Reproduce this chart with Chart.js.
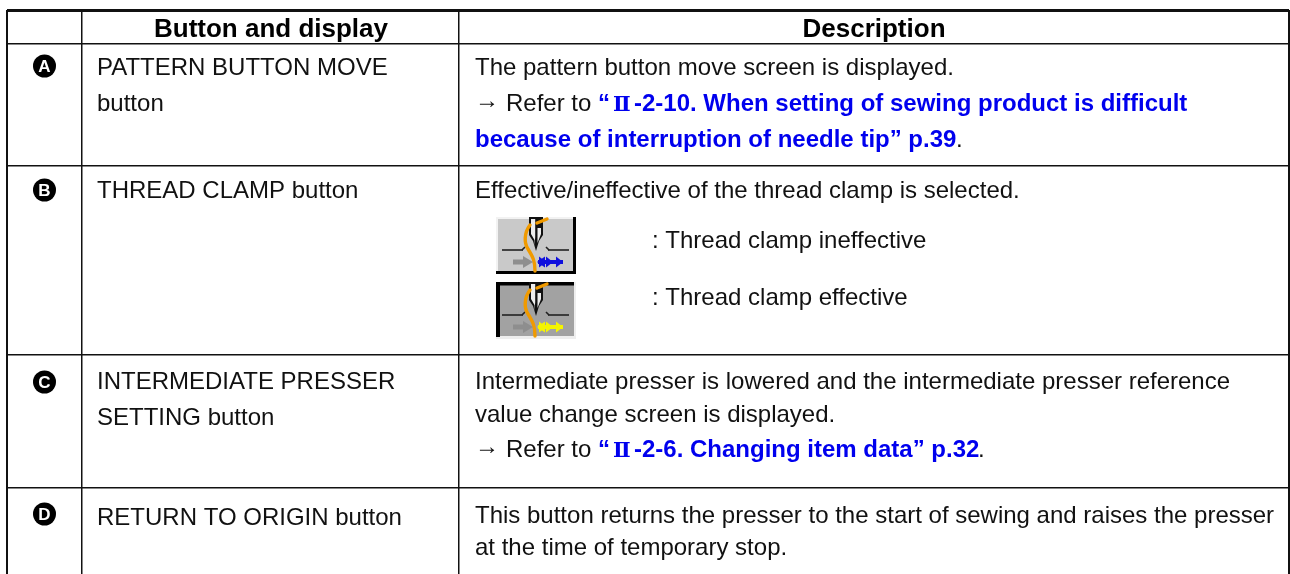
<!DOCTYPE html>
<html><head><meta charset="utf-8">
<style>html,body{margin:0;padding:0;background:#fff}#w{width:1290px;height:574px}</style>
<script src="https://cdn.jsdelivr.net/npm/chart.js@4"></script></head>
<body><div id="w"><canvas id="c" width="1290" height="574"></canvas></div>
<script>
const columnRules=[7,82,459,1289];
const rowRules=[10,44,166,355,488];
const headers=["Button and display","Description"];
const markers=["A","B","C","D"];
const buttonNames=[["PATTERN BUTTON MOVE","button"],["THREAD CLAMP button"],["INTERMEDIATE PRESSER","SETTING button"],["RETURN TO ORIGIN button"]];
const iconCaptions=[": Thread clamp ineffective",": Thread clamp effective"];
const SANS='"Liberation Sans",Arial,sans-serif';
const FS=24;
const BLUE='#0000ee';
// text runs: [text, x, baseline, bold, colour, kind]
const runs=[
 ["The pattern button move screen is displayed.",475,75],
 ["→",475,108],["Refer to ",506,111],
 ["“",598,111,1,BLUE],["Ⅱ",613,111,1,BLUE,"roman"],["-2-10. When setting of sewing product is difficult",634,111,1,BLUE],
 ["because of interruption of needle tip” p.39",475,147,1,BLUE],[".",956,147],
 ["Effective/ineffective of the thread clamp is selected.",475,198],
 ["Intermediate presser is lowered and the intermediate presser reference",475,389],
 ["value change screen is displayed.",475,422],
 ["→",475,454],["Refer to ",506,457],
 ["“",598,457,1,BLUE],["Ⅱ",613,457,1,BLUE,"roman"],["-2-6. Changing item data” p.32",634,457,1,BLUE],[".",978,457],
 ["This button returns the presser to the start of sewing and raises the presser",475,523],
 ["at the time of temporary stop.",475,555]];
const nameBase=[[75,111],[198],[389,425],[525]];
const markerY=[66,190,382,514];
function rect(c,col,x,y,w,h){c.fillStyle=col;c.fillRect(x,y,w,h);}
function drawIcon(c,x,y,active){
 const W=80,H=57;
 c.save();c.translate(x,y);
 if(active){
  rect(c,'#eeeeee',0,0,W,H);rect(c,'#a2a2a2',4,3,W-6,H-6);
  rect(c,'#000',0,0,W-2,3.5);rect(c,'#000',0,0,4,H-2);
 }else{
  rect(c,'#000',0,0,W,H);rect(c,'#f2f2f2',0,0,W-3,H-3);rect(c,'#c9c9c9',2,2,W-5,H-5);
 }
 rect(c,'#222',6,32.2,21,1.6);rect(c,'#222',52,32.2,21,1.6);
 c.strokeStyle='#222';c.lineWidth=1.6;c.beginPath();c.moveTo(26,33);c.lineTo(29,30);c.moveTo(53,33);c.lineTo(50,30);c.stroke();
 c.fillStyle='#111';
 c.beginPath();c.moveTo(33,0);c.lineTo(33,18);c.lineTo(37,24);c.lineTo(40,34);c.lineTo(43,24);c.lineTo(47,18);c.lineTo(47,0);c.closePath();c.fill();
 c.fillStyle='#eee';
 c.beginPath();c.moveTo(35,2);c.lineTo(35,17);c.lineTo(38.5,23);c.lineTo(38.5,29);c.lineTo(39.2,20);c.lineTo(39.2,2);c.closePath();c.fill();
 c.beginPath();c.moveTo(41.5,11);c.lineTo(45,11);c.lineTo(45,17);c.lineTo(41.5,26);c.closePath();c.fill();
 c.strokeStyle='#f09a00';c.lineWidth=3.4;c.lineCap='round';c.beginPath();c.moveTo(51,2);c.lineTo(41,6);
 c.moveTo(34,8);c.bezierCurveTo(28,16,28,26,32,32);c.bezierCurveTo(37,40,39,44,39,54);c.stroke();
 rect(c,'#8e8e8e',17,42.5,12,5);c.fillStyle='#8e8e8e';c.beginPath();c.moveTo(27,39);c.lineTo(37,45);c.lineTo(27,51);c.fill();
 const col=active?'#f5f500':'#1010dd';
 rect(c,col,42,43,25,4);c.fillStyle=col;
 for(const [tip,base] of [[41,49],[50,43],[57,50],[67,60]]){c.beginPath();c.moveTo(tip,45);c.lineTo(base,39.5);c.lineTo(base,50.5);c.fill();}
 c.restore();
}
const tablePlugin={id:'tablePlugin',afterDraw(ch){
 const c=ch.ctx,X=v=>ch.scales.x.getPixelForValue(v),Y=v=>ch.scales.y.getPixelForValue(v);
 c.save();c.textBaseline='alphabetic';c.textAlign='left';
 c.fillStyle='#000';c.font='bold 26px '+SANS;c.textAlign='center';
 c.fillText(headers[0],X(271),Y(37));c.fillText(headers[1],X(874),Y(37));
 markers.forEach((m,i)=>{c.fillStyle='#000';c.beginPath();c.arc(X(44.5),Y(markerY[i]),11.5,0,7);c.fill();
  c.fillStyle='#fff';c.font='bold 17px '+SANS;c.fillText(m,X(44.5),Y(markerY[i]+6));});
 c.textAlign='left';c.fillStyle='#111';c.font=FS+'px '+SANS;
 buttonNames.forEach((ls,i)=>ls.forEach((t,j)=>c.fillText(t,X(97),Y(nameBase[i][j]))));
 runs.forEach(([t,x,y,b,col,kind])=>{
  c.fillStyle=col||'#111';
  c.font=kind==='roman'?'bold 21px "DejaVu Serif",serif':(b?'bold ':'')+FS+'px '+SANS;
  c.fillText(t,X(x),Y(y));
 });
 c.fillStyle='#111';c.font=FS+'px '+SANS;
 c.fillText(iconCaptions[0],X(652),Y(248));c.fillText(iconCaptions[1],X(652),Y(305));
 drawIcon(c,X(496),Y(217),false);drawIcon(c,X(496),Y(282),true);
 c.restore();
}};
new Chart(document.getElementById('c'),{
 type:'scatter',
 data:{datasets:[{data:[],pointRadius:0}]},
 plugins:[tablePlugin],
 options:{responsive:false,animation:false,
  layout:{padding:{left:7,top:10,right:1,bottom:0}},
  plugins:{legend:{display:false},tooltip:{enabled:false},title:{display:false}},
  scales:{
   x:{type:'linear',min:7,max:1289,border:{display:false},
    afterBuildTicks:s=>{s.ticks=columnRules.map(value=>({value}))},
    ticks:{display:false},
    grid:{drawTicks:false,color:'#111',lineWidth:t=>(t.tick&&(t.tick.value===7)||t.tick&&t.tick.value===1289)?2:1.5}},
   y:{type:'linear',min:10,max:574,reverse:true,border:{display:false},
    afterBuildTicks:s=>{s.ticks=rowRules.map(value=>({value}))},
    ticks:{display:false},
    grid:{drawTicks:false,color:'#111',lineWidth:t=>t.tick&&t.tick.value===10?3:1.5}}
  }}});
</script></body></html>
